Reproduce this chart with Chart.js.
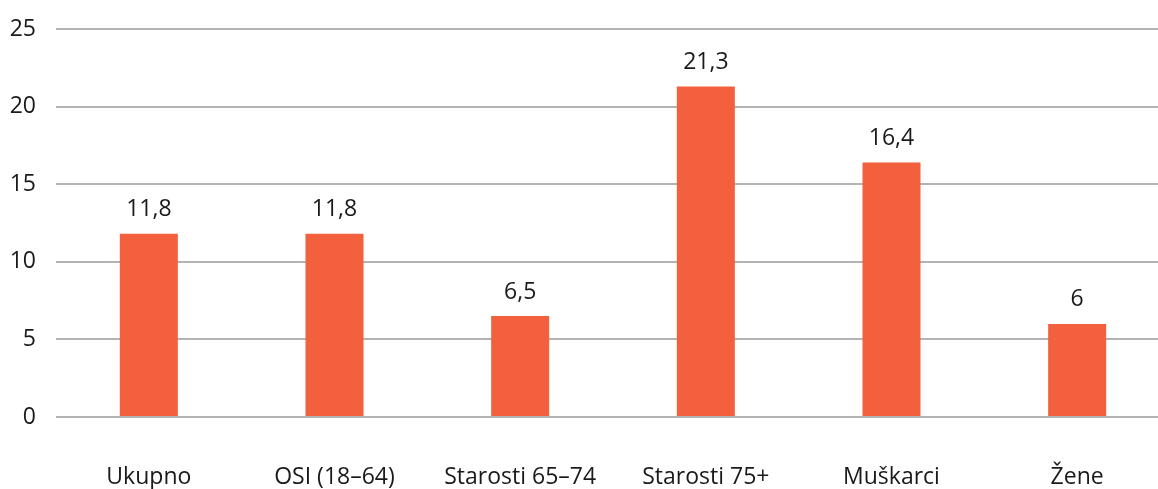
<!DOCTYPE html>
<html>
<head>
<meta charset="utf-8">
<script src="https://cdn.jsdelivr.net/npm/chart.js@4/dist/chart.umd.min.js"></script>
<style>
  html, body { margin: 0; padding: 0; background: #fff; overflow: hidden; }
  canvas { display: block; }
</style>
</head>
<body>
<canvas id="barChart" width="1170" height="489"></canvas>
<script>
const categories = ["Ukupno", "OSI (18–64)", "Starosti 65–74", "Starosti 75+", "Muškarci", "Žene"];
const values = [11.8, 11.8, 6.5, 21.3, 16.4, 6];
const yTicks = [0, 5, 10, 15, 20, 25];

// values above the bars, comma as decimal mark
const valueLabels = {
  id: "valueLabels",
  afterDatasetsDraw(chart) {
    const ctx = chart.ctx;
    const meta = chart.getDatasetMeta(0);
    ctx.save();
    ctx.font = "23px 'Open Sans', sans-serif";
    ctx.fillStyle = "#1a1a1a";
    ctx.textAlign = "center";
    ctx.textBaseline = "middle";
    meta.data.forEach((bar, i) => {
      const txt = String(values[i]).replace(".", ",");
      ctx.fillText(txt, bar.x, bar.y - 24);
    });
    ctx.restore();
  },
};

const ctx = document.getElementById("barChart").getContext("2d");
new Chart(ctx, {
  type: "bar",
  data: {
    labels: categories,
    datasets: [
      {
        data: values,
        backgroundColor: "#F2603D",
        barPercentage: 0.3125,
        categoryPercentage: 1,
      },
    ],
  },
  options: {
    responsive: false,
    animation: false,
    layout: { padding: { left: 10, top: 29, right: 0, bottom: 0 } },
    plugins: {
      legend: { display: false },
      tooltip: { enabled: false },
    },
    scales: {
      x: {
        afterFit: (axis) => { axis.height = 72; },
        grid: { display: false, drawTicks: false },
        border: { display: false },
        ticks: {
          padding: 47,
          color: "#1a1a1a",
          font: { family: "'Open Sans', sans-serif", size: 23 },
          maxRotation: 0,
          autoSkip: false,
        },
      },
      y: {
        min: 0,
        max: 25,
        afterBuildTicks: (axis) => {
          axis.ticks = yTicks.map((v) => ({ value: v }));
        },
        afterFit: (axis) => {
          axis.width = 46;
          axis.paddingTop = 0;
          axis.paddingBottom = 0;
        },
        grid: { color: "#b3b3b3", lineWidth: 2, drawTicks: false },
        border: { display: false },
        ticks: {
          padding: 20,
          color: "#1a1a1a",
          font: { family: "'Open Sans', sans-serif", size: 23 },
        },
      },
    },
  },
  plugins: [valueLabels],
});
</script>
</body>
</html>
